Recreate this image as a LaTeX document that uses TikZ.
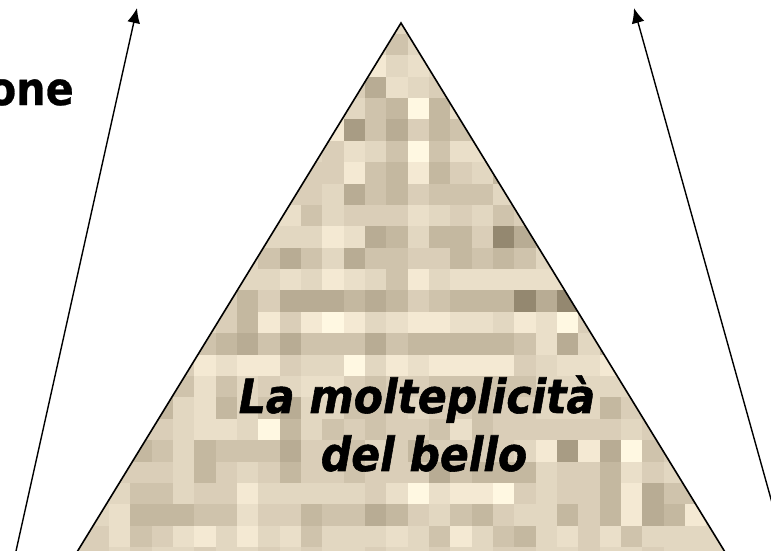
\documentclass[tikz,border=0pt]{standalone}
\usepackage{fontspec}
\setmainfont{DejaVu Sans}
\newfontface\headface{DejaVu Sans Bold}[FakeStretch=0.9,FakeBold=0.6]
\newfontface\bigface{DejaVu Sans Bold Oblique}[FakeStretch=0.905,FakeBold=1.2]
\usetikzlibrary{arrows.meta}
\definecolor{t0}{HTML}{948870}
\definecolor{t1}{HTML}{A89C84}
\definecolor{t2}{HTML}{B8AC94}
\definecolor{t3}{HTML}{C4B8A0}
\definecolor{t4}{HTML}{CFC3AC}
\definecolor{t5}{HTML}{DACEB8}
\definecolor{t6}{HTML}{E2D7C1}
\definecolor{t7}{HTML}{EADFC9}
\definecolor{t8}{HTML}{F4E9D3}
\definecolor{t9}{HTML}{FFF8E2}
\newcommand{\cellrow}[3]{\foreach \tonenum [count=\colnum from #2] in {#3} {\fill[t\tonenum] ({66.4+21.33*\colnum},{33.9+21.38*#1}) rectangle +(21.8,21.8);}}
\tikzset{
  edgeline/.style={draw=black,line width=1.6pt,line join=miter},
  arrowline/.style={draw=black,line width=1.4pt,-{Latex[length=15pt,width=13pt]}},
  headtext/.style={font=\headface\fontsize{46}{50}\selectfont,inner sep=0pt,anchor=base east},
  bigtext/.style={font=\bigface\fontsize{47}{58}\selectfont,inner sep=0pt,align=center,anchor=center}
}
\begin{document}
\begin{tikzpicture}[x=1pt,y=-1pt]
\useasboundingbox (0,0) rectangle (771,550);
\clip (0,0) rectangle (771,550);
\fill[white] (0,0) rectangle (771,550);
\coordinate (apex) at (401,23);
\coordinate (bl) at (66,570);
\coordinate (br) at (736,570);
\begin{scope}
\clip (apex) -- (br) -- (bl) -- cycle;
\fill[t6] (apex) -- (br) -- (bl) -- cycle;
\cellrow{0}{15}{4,6}
\cellrow{1}{14}{8,6,7}
\cellrow{2}{13}{5,2,7,6,5}
\cellrow{3}{13}{6,4,3,9,3,7}
\cellrow{4}{12}{8,1,4,2,5,3,4}
\cellrow{5}{12}{5,7,6,4,9,4,7,7}
\cellrow{6}{11}{5,5,8,4,3,8,3,5,6,3}
\cellrow{7}{10}{5,5,6,2,4,3,5,4,4,4,6}
\cellrow{8}{9}{6,7,4,6,5,5,5,7,6,5,6,4,5}
\cellrow{9}{9}{6,6,6,8,7,2,3,6,3,3,5,0,2,4}
\cellrow{10}{8}{6,4,2,4,6,2,4,4,5,5,3,4,3,4,6}
\cellrow{11}{8}{6,6,7,6,8,7,6,4,8,6,7,7,7,7,7,7}
\cellrow{12}{7}{5,3,5,2,2,2,3,2,3,5,4,3,3,3,0,2,0,5}
\cellrow{13}{7}{5,3,8,5,8,9,8,6,7,8,8,7,7,6,8,7,9,5,5}
\cellrow{14}{6}{4,3,2,4,2,4,4,4,2,4,3,3,3,3,3,4,7,2,6,3}
\cellrow{15}{5}{5,8,7,8,8,5,6,6,9,6,8,7,8,8,8,8,5,6,7,7,8,6}
\cellrow{16}{5}{4,7,4,6,5,6,7,7,5,4,5,5,4,4,4,4,4,6,6,6,6,6}
\cellrow{17}{4}{3,6,7,3,6,4,2,6,6,4,4,5,6,5,5,4,5,5,6,6,6,3,5,5}
\cellrow{18}{3}{5,5,6,7,7,6,9,3,6,4,5,4,5,5,4,7,4,5,5,5,5,5,5,6,5}
\cellrow{19}{3}{3,4,6,3,4,4,4,2,5,5,4,6,5,3,5,5,5,5,6,8,1,8,2,9,4,5}
\cellrow{20}{2}{5,5,5,6,3,5,6,5,3,5,5,4,5,5,5,2,4,3,3,3,6,5,5,3,7,5,6,4}
\cellrow{21}{2}{6,4,4,6,5,5,8,6,6,6,6,6,5,7,9,7,8,8,9,5,6,5,5,3,8,2,4,4}
\cellrow{22}{1}{6,7,3,3,3,4,4,7,5,5,3,4,4,2,3,5,6,4,3,5,6,6,3,5,3,8,2,3,8,6}
\cellrow{23}{0}{5,5,7,4,5,7,8,6,8,6,7,4,6,6,6,7,6,4,8,6,4,3,6,7,5,7,4,6,6,6,6}
\cellrow{24}{0}{5,5,6,5,6,6,5,6,6,5,6,5,6,6,5,6,6,5,6,6,5,5,6,6,5,6,6,5,6,6,6}
\end{scope}
\draw[edgeline] (bl) -- (apex) -- (br);
\coordinate (ltail) at (14,560);
\coordinate (lhead) at (137,8);
\coordinate (rtail) at (788,560);
\coordinate (rhead) at (634,8);
\draw[arrowline] (ltail) -- (lhead);
\draw[arrowline] (rtail) -- (rhead);
\node[headtext] (head) at (74,105) {one};
\node[bigtext] (title) at (417,423.5) {La molteplicità\\\hspace*{14pt}del bello};
\end{tikzpicture}
\end{document}
